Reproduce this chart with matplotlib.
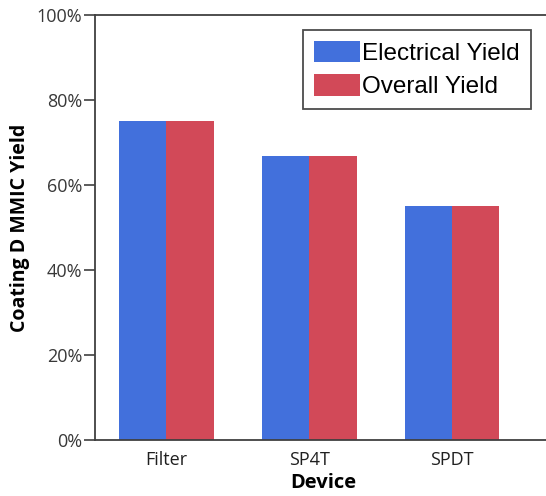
import numpy as np
import matplotlib
matplotlib.use("Agg")
import matplotlib.pyplot as plt
from matplotlib.ticker import PercentFormatter

# ── data ────────────────────────────────────────────────────────────────
devices    = ["Filter", "SP4T", "SPDT"]
electrical = [75.0, 66.7, 55.0]   # %
overall    = [75.0, 66.7, 55.0]   # %

Blue = "#4270DC"
Red  = "#D24958"

fig = plt.figure(figsize=(5.46, 4.96), dpi=100)
ax = fig.add_axes([0.174, 0.113, 0.835, 0.857])

x = np.arange(len(devices))
w = 0.33
ax.bar(x - w / 2, electrical, w, color=Blue, label="Electrical Yield")
ax.bar(x + w / 2, overall,    w, color=Red,  label="Overall Yield")

ax.set_xlim(-0.5, 2.69)
ax.set_ylim(0, 100)
ax.set_yticks([0, 20, 40, 60, 80, 100])
ax.yaxis.set_major_formatter(PercentFormatter(decimals=0))
ax.set_xticks(x)
ax.set_xticklabels(devices)

for s in ["left", "top", "bottom"]:
    ax.spines[s].set_color("#404040")
    ax.spines[s].set_linewidth(1.3)
ax.spines["right"].set_visible(False)

tick_font = "Open Sans"
ax.tick_params(axis="y", length=8, width=1.2, color="#404040",
               labelsize=13, labelcolor="#383838", pad=1)
ax.tick_params(axis="x", length=0, labelsize=13, labelcolor="#202020", pad=8)
for lab in ax.get_xticklabels() + ax.get_yticklabels():
    lab.set_family(tick_font)

ax.set_xlabel("Device", family=tick_font, fontweight="bold", fontsize=14.5, labelpad=3)
ax.set_ylabel("Coating D MMIC Yield", family=tick_font, fontweight="bold",
              fontsize=14, labelpad=5)

leg = ax.legend(loc="upper left", bbox_to_anchor=(0.456, 0.965),
                prop={"family": "Liberation Sans", "size": 17.5},
                fancybox=False, frameon=True, handlelength=1.9, handleheight=1.0,
                handletextpad=0.1, borderpad=0.45, labelspacing=0.38,
                borderaxespad=0)
leg.get_frame().set_edgecolor("#202020")
leg.get_frame().set_linewidth(1.3)

fig.savefig("out.png", dpi=100)
